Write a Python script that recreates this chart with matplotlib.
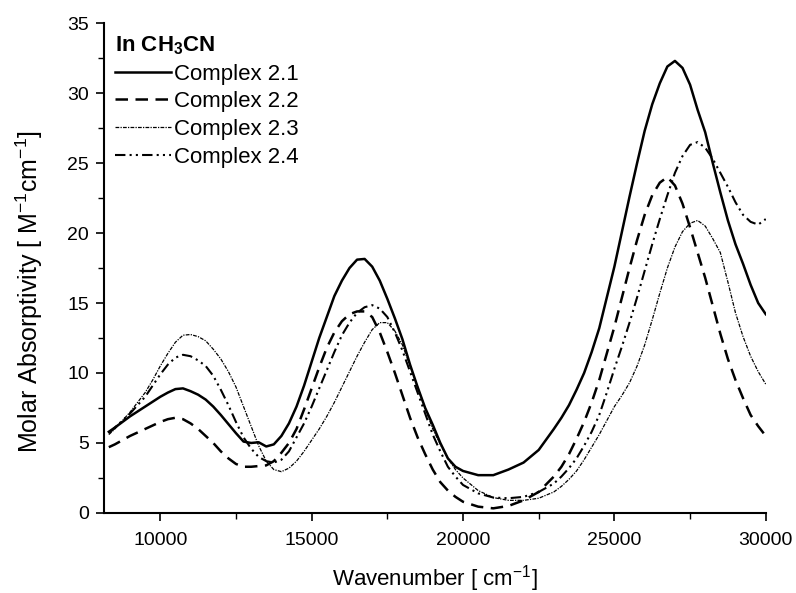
import matplotlib
matplotlib.use('Agg')
import matplotlib.pyplot as plt
from matplotlib.ticker import MultipleLocator

plt.rcParams['font.family'] = ['Liberation Sans', 'DejaVu Sans']

# wavenumber grid (cm^-1)
wavenumber = [8300, 8500, 9000, 9500, 9750, 10000, 10250, 10500, 10750, 11000,
              11250, 11500, 11750, 12000, 12250, 12500, 12750, 13000, 13250, 13500,
              13750, 14000, 14250, 14500, 14750, 15000, 15250, 15500, 15750, 16000,
              16250, 16500, 16750, 17000, 17250, 17500, 17750, 18000, 18250, 18500,
              18750, 19000, 19250, 19500, 19750, 20000, 20500, 21000, 21500, 22000,
              22500, 23000, 23250, 23500, 23750, 24000, 24250, 24500, 24750, 25000,
              25250, 25500, 25750, 26000, 26250, 26500, 26750, 27000, 27250, 27500,
              27750, 28000, 28250, 28500, 28750, 29000, 29250, 29500, 29750, 30000]

complex_21 = [5.8, 6.1, 6.9, 7.6, 7.95, 8.3, 8.6, 8.85, 8.9, 8.7,
              8.45, 8.1, 7.6, 7.0, 6.35, 5.7, 5.1, 5.0, 5.05, 4.75,
              4.9, 5.5, 6.4, 7.6, 9.1, 10.8, 12.5, 14.0, 15.5, 16.6,
              17.5, 18.1, 18.15, 17.6, 16.6, 15.3, 13.9, 12.4, 10.6, 9.0,
              7.5, 6.3, 5.0, 3.9, 3.3, 3.0, 2.7, 2.7, 3.1, 3.6,
              4.5, 6.0, 6.8, 7.7, 8.8, 10.0, 11.5, 13.2, 15.4, 17.6,
              20.1, 22.6, 25.0, 27.3, 29.2, 30.7, 31.9, 32.3, 31.8, 30.6,
              28.8, 27.2, 25.0, 22.9, 20.9, 19.2, 17.8, 16.3, 15.0, 14.2]

complex_22 = [4.7, 4.9, 5.5, 6.0, 6.25, 6.5, 6.7, 6.8, 6.7, 6.4,
              6.0, 5.5, 5.0, 4.4, 3.9, 3.5, 3.3, 3.3, 3.35, 3.4,
              3.7, 4.3, 5.0, 6.0, 7.4, 8.9, 10.4, 11.8, 12.9, 13.7,
              14.2, 14.4, 14.4, 14.0, 12.9, 11.5, 10.0, 8.4, 6.8, 5.4,
              4.2, 3.1, 2.2, 1.6, 1.15, 0.8, 0.45, 0.33, 0.5, 0.9,
              1.5, 2.6, 3.3, 4.2, 5.3, 6.5, 7.9, 9.5, 11.4, 13.3,
              15.4, 17.5, 19.5, 21.3, 22.7, 23.6, 24.0, 23.4, 22.1, 20.4,
              18.6, 16.8, 14.8, 12.8, 11.0, 9.5, 8.2, 7.0, 6.2, 5.5]

complex_23 = [5.6, 6.0, 7.2, 8.6, 9.5, 10.5, 11.4, 12.2, 12.7, 12.75,
              12.6, 12.3, 11.7, 11.0, 10.1, 9.0, 7.6, 6.2, 4.8, 3.7,
              3.1, 2.95, 3.2, 3.7, 4.4, 5.2, 6.0, 6.9, 7.9, 9.0,
              10.1, 11.2, 12.2, 13.1, 13.6, 13.6, 13.0, 12.0, 10.5, 9.0,
              7.5, 6.0, 4.9, 3.9, 3.1, 2.5, 1.6, 1.1, 0.9, 0.9,
              1.05, 1.5, 1.9, 2.4, 3.0, 3.8, 4.7, 5.6, 6.6, 7.6,
              8.4, 9.3, 10.5, 12.0, 13.8, 15.7, 17.5, 19.0, 20.1, 20.7,
              20.9, 20.5, 19.6, 18.6, 16.5, 14.3, 12.6, 11.2, 10.1, 9.2]

complex_24 = [5.7, 6.1, 7.1, 8.3, 9.1, 9.9, 10.6, 11.1, 11.3, 11.2,
              10.9, 10.5, 9.8, 8.8, 7.7, 6.5, 5.4, 4.6, 4.0, 3.7,
              3.6, 3.8, 4.4, 5.4, 6.4, 7.6, 8.9, 10.2, 11.5, 12.7,
              13.6, 14.3, 14.7, 14.85, 14.6, 14.0, 12.9, 11.6, 10.1, 8.6,
              7.1, 5.6, 4.4, 3.3, 2.6, 2.0, 1.4, 1.1, 1.05, 1.15,
              1.5, 2.1, 2.6, 3.2, 3.9, 4.8, 5.8, 7.0, 8.6, 10.3,
              11.9, 13.6, 15.4, 17.3, 19.2, 21.0, 22.7, 24.3, 25.5, 26.3,
              26.5, 26.1, 25.3, 24.3, 23.3, 22.2, 21.3, 20.8, 20.6, 21.0]

labels = ['Complex 2.1', 'Complex 2.2', 'Complex 2.3', 'Complex 2.4']

fig = plt.figure(figsize=(7.96, 5.93), dpi=100)
ax = fig.add_axes([0.131, 0.135, 0.831, 0.826])

ax.plot(wavenumber, complex_21, color='black', lw=1.8, ls='-', label=labels[0])
ax.plot(wavenumber, complex_22, color='black', lw=1.8, ls=(0, (5, 3)), label=labels[1])
ax.plot(wavenumber, complex_23, color='black', lw=0.9, ls=(0, (3, 1, 1, 1)), label=labels[2])
ax.plot(wavenumber, complex_24, color='black', lw=1.5, ls=(0, (5, 2, 1, 2, 1, 2)), label=labels[3])

ax.set_xlim(8150, 30000)
ax.set_ylim(0, 35)
ax.xaxis.set_major_locator(MultipleLocator(5000))
ax.xaxis.set_minor_locator(MultipleLocator(2500))
ax.yaxis.set_major_locator(MultipleLocator(5))
ax.yaxis.set_minor_locator(MultipleLocator(2.5))
ax.tick_params(which='major', direction='out', length=6, width=1.2, labelsize=14)
ax.tick_params(axis='x', which='major', pad=8)
ax.tick_params(axis='y', which='major', pad=5)
ax.tick_params(which='minor', direction='out', length=4, width=1.0)

for side in ['top', 'right']:
    ax.spines[side].set_visible(False)
for side in ['left', 'bottom']:
    ax.spines[side].set_linewidth(1.5)

ax.set_xlabel('Wavenumber [ cm$^{\\mathregular{-1}}$]', fontsize=16, labelpad=10)
ax.set_ylabel('Molar Absorptivity [ M$^{\\mathregular{-1}}$cm$^{\\mathregular{-1}}$]', fontsize=18)
ax.yaxis.set_label_coords(-0.09, 0.452)

leg = ax.legend(loc='upper left', bbox_to_anchor=(0.0, 1.0), frameon=False,
                title='In CH$_{\\mathregular{3}}$CN', fontsize=16, handlelength=2.5,
                handletextpad=0.15, labelspacing=0.3, borderaxespad=0.2,
                borderpad=0.3, alignment='left')
leg.get_title().set_fontweight('bold')
leg.get_title().set_fontsize(16)

fig.savefig('out.png', dpi=100)
